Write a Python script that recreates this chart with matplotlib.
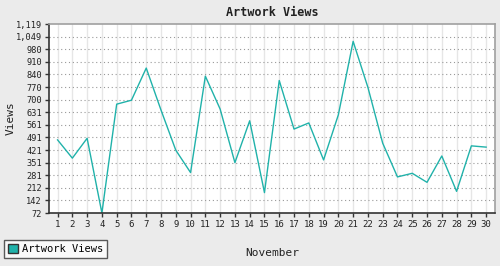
import matplotlib
matplotlib.use("Agg")
import matplotlib.pyplot as plt
from matplotlib.patches import Patch

# ── Datos ────────────────────────────────────────────
days = list(range(1, 31))
views = [477, 376, 486, 72, 675, 697, 875, 642, 420, 296,
         830, 648, 351, 583, 185, 806, 537, 571, 366, 616,
         1023, 768, 459, 272, 292, 242, 388, 192, 444, 437]
y_ticks = [72, 142, 212, 281, 351, 421, 491, 561, 631, 700,
           770, 840, 910, 980, 1049, 1119]
y_tick_labels = ["72", "142", "212", "281", "351", "421", "491", "561",
                 "631", "700", "770", "840", "910", "980", "1,049", "1,119"]

LINE = "#20b2aa"
BG = "#ebebeb"
plt.rcParams["font.family"] = ["DejaVu Sans Mono"]

fig = plt.figure(figsize=(5.0, 2.66), dpi=100, facecolor=BG)
ax = fig.add_axes([0.098, 0.1992, 0.892, 0.7105])
ax.set_facecolor("white")

ax.plot(days, views, color=LINE, linewidth=1.0, label="Artwork Views")

ax.set_xlim(0.42, 30.6)
ax.set_ylim(72, 1119)
ax.set_xticks(days)
ax.set_xticklabels([str(d) for d in days], fontsize=6.5)
ax.set_yticks(y_ticks)
ax.set_yticklabels(y_tick_labels, fontsize=6.2)

# rejilla
for d in days:
    ax.axvline(d, color="#e6e6e6", linewidth=1.0, zorder=0)
for v in y_ticks[1:-1]:
    ax.axhline(v, color="#999999", linewidth=0.8, linestyle=(0, (1, 2.5)), zorder=0)

for s in ["left", "bottom"]:
    ax.spines[s].set_color("#333333")
    ax.spines[s].set_linewidth(1.2)
for s in ["top", "right"]:
    ax.spines[s].set_color("#a0a0a0")
    ax.spines[s].set_linewidth(1.2)
ax.tick_params(axis="both", length=3, width=1, color="#333333", pad=2, labelcolor="#222222")

ax.set_title("Artwork Views", fontsize=8.5, fontweight="bold", color="#222222", pad=6)
ax.set_ylabel("Views", fontsize=8, color="#222222")
ax.yaxis.set_label_coords(-0.075, 0.5)
ax.set_xlabel("November", fontsize=8, color="#222222", labelpad=14)

leg = fig.legend(handles=[Patch(facecolor=LINE, edgecolor="#333333", label="Artwork Views")],
                 loc="lower left", bbox_to_anchor=(0.008, 0.03), fontsize=7.5,
                 frameon=True, fancybox=False, handlelength=1.0, handleheight=1.0,
                 handletextpad=0.4, borderpad=0.35, borderaxespad=0)
leg.get_frame().set_edgecolor("#333333")
leg.get_frame().set_linewidth(1.0)

fig.savefig("out.png", dpi=100, facecolor=BG)
